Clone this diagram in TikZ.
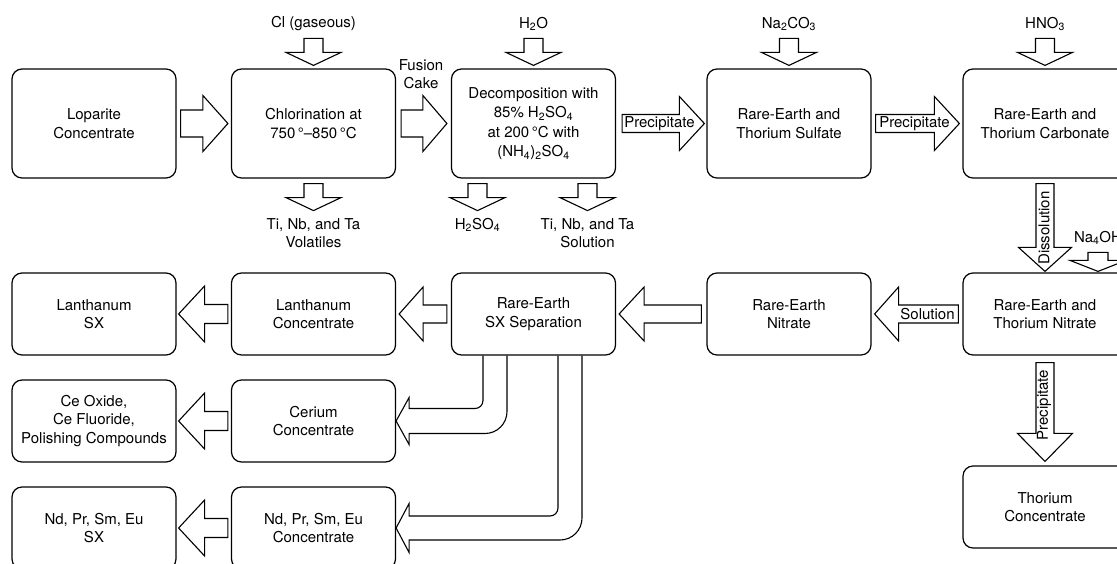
\documentclass[tikz,border=0pt]{standalone}
\usepackage{fontspec}
\setmainfont{TeX Gyre Heros}
\usetikzlibrary{calc}

\newcommand\boxfont{\fontsize{15}{18.5}\selectfont}
\newcommand\chemsub[1]{\textsubscript{#1}}

% hollow block arrows: from, tip, half shaft, half head, head length
\newcommand\flowright[5]{%
  \draw[flowarrow] let \p1=#1, \p2=#2 in
    (\x1,\y1+#3pt) -- (\x2-#5pt,\y1+#3pt) -- (\x2-#5pt,\y1+#4pt) -- (\x2,\y1)
    -- (\x2-#5pt,\y1-#4pt) -- (\x2-#5pt,\y1-#3pt) -- (\x1,\y1-#3pt) -- cycle;}
\newcommand\flowleft[5]{%
  \draw[flowarrow] let \p1=#1, \p2=#2 in
    (\x1,\y1+#3pt) -- (\x2+#5pt,\y1+#3pt) -- (\x2+#5pt,\y1+#4pt) -- (\x2,\y1)
    -- (\x2+#5pt,\y1-#4pt) -- (\x2+#5pt,\y1-#3pt) -- (\x1,\y1-#3pt) -- cycle;}
\newcommand\flowdown[5]{%
  \draw[flowarrow] let \p1=#1, \p2=#2 in
    (\x1-#3pt,\y1) -- (\x1-#3pt,\y2+#5pt) -- (\x1-#4pt,\y2+#5pt) -- (\x1,\y2)
    -- (\x1+#4pt,\y2+#5pt) -- (\x1+#3pt,\y2+#5pt) -- (\x1+#3pt,\y1) -- cycle;}

\tikzset{
  stage/.style={draw, line width=1.2pt, rounded corners=10pt, minimum width=164pt,
    minimum height=82pt, inner sep=0pt, align=center, font=\boxfont},
  tallstage/.style={stage, minimum height=109pt},
  flowarrow/.style={draw, line width=1.1pt, fill=white},
  tag/.style={align=center, inner sep=0pt, font=\boxfont},
}

\begin{document}
\begin{tikzpicture}[x=1pt,y=-1pt]
\useasboundingbox (0,0) rectangle (1117,563);

% top row
\node[tallstage] (lop) at (94,123.5) {Loparite\\Concentrate};
\node[tallstage] (chl) at (313.5,123.5) {Chlorination at\\750\,°–850\,°C};
\node[tallstage, font=\fontsize{15}{19.5}\selectfont] (dec) at (533.5,123.5)
  {Decomposition with\\85\% H\chemsub{2}SO\chemsub{4}\\at 200\,°C with\\(NH\chemsub{4})\chemsub{2}SO\chemsub{4}};
\node[tallstage] (sul) at (789,123.5) {Rare-Earth and\\Thorium Sulfate};
\node[tallstage] (car) at (1045,123.5) {Rare-Earth and\\Thorium Carbonate};

% second row
\node[stage] (las) at (94,314) {Lanthanum\\SX};
\node[stage] (lac) at (313.5,314) {Lanthanum\\Concentrate};
\node[stage] (sx) at (533.5,314) {Rare-Earth\\SX Separation};
\node[stage] (ren) at (789,314) {Rare-Earth\\Nitrate};
\node[stage] (rtn) at (1045,314) {Rare-Earth and\\Thorium Nitrate};

% lower rows
\node[stage] (ceo) at (94,421) {Ce Oxide,\\Ce Fluoride,\\Polishing Compounds};
\node[stage] (cec) at (313.5,421) {Cerium\\Concentrate};
\node[stage] (nds) at (94,528) {Nd, Pr, Sm, Eu\\SX};
\node[stage] (ndc) at (313.5,528) {Nd, Pr, Sm, Eu\\Concentrate};
\node[stage] (thc) at (1045,507) {Thorium\\Concentrate};

% feeds and side streams
\flowdown{([yshift=30pt]chl.north)}{([yshift=3pt]chl.north)}{9.5}{27.5}{13}
\flowdown{([yshift=30pt]dec.north)}{([yshift=3pt]dec.north)}{9.5}{27.5}{13}
\flowdown{([yshift=30pt]sul.north)}{([yshift=3pt]sul.north)}{9.5}{27.5}{13}
\flowdown{([yshift=30pt]car.north)}{([yshift=3pt]car.north)}{9.5}{27.5}{13}
\flowdown{([yshift=-5pt]chl.south)}{([yshift=-32pt]chl.south)}{9.5}{27.5}{13}
\flowdown{([xshift=-56pt,yshift=-5pt]dec.south)}{([xshift=-56pt,yshift=-32pt]dec.south)}{9.5}{27.5}{13}
\flowdown{([xshift=54pt,yshift=-5pt]dec.south)}{([xshift=54pt,yshift=-32pt]dec.south)}{9.5}{27.5}{13}
\flowdown{([xshift=53pt,yshift=20pt]rtn.north)}{([xshift=53pt,yshift=1pt]rtn.north)}{10}{28}{11}

% main flow
\flowright{([xshift=4pt]lop.east)}{([xshift=-3pt]chl.west)}{13.5}{28}{25}
\flowright{([xshift=5pt]chl.east)}{([xshift=-4pt]dec.west)}{13.5}{28}{24}
\flowright{([xshift=6pt]dec.east)}{([xshift=-2pt]sul.west)}{9}{27}{25}
\flowright{([xshift=4pt]sul.east)}{([xshift=-3pt]car.west)}{9}{27}{25}
\flowdown{([yshift=-5pt]car.south)}{([yshift=1pt]rtn.north)}{9}{26.5}{24}
\flowdown{([yshift=-7pt]rtn.south)}{([yshift=4pt]thc.north)}{9}{27.5}{28}
\flowleft{([xshift=-4pt]rtn.west)}{([xshift=3pt]ren.east)}{9}{27}{24}
\flowleft{([xshift=-5pt]ren.west)}{([xshift=3pt]sx.east)}{9}{27}{25}
\flowleft{([xshift=-4pt]sx.west)}{([xshift=3pt]lac.east)}{9}{27}{24}
\foreach \a/\b in {lac/las,cec/ceo,ndc/nds}
  \flowleft{([xshift=-3pt]\a.west)}{([xshift=2pt]\b.east)}{9.5}{28}{26};

% split streams out of the separation
\draw[flowarrow, fill=none] ($(sx.south)+(-50.5,0)$) [rounded corners=8pt]
  -- ($(sx.south |- cec.east)+(-50.5,-12.5)$) [sharp corners]
  -- ($(cec.east)+(13,-12.5)$) -- ($(cec.east)+(13,-23.5)$) -- (cec.east)
  -- ($(cec.east)+(13,23.5)$) -- ($(cec.east)+(13,12.5)$) [rounded corners=22pt]
  -- ($(sx.south |- cec.east)+(-26.5,12.5)$) -- ($(sx.south)+(-26.5,0)$);
\draw[flowarrow, fill=none] ($(sx.south)+(24.5,0)$) [rounded corners=8pt]
  -- ($(sx.south |- ndc.east)+(24.5,-12)$) [sharp corners]
  -- ($(ndc.east)+(13,-12)$) -- ($(ndc.east)+(13,-24.5)$) -- (ndc.east)
  -- ($(ndc.east)+(13,24.5)$) -- ($(ndc.east)+(13,12)$) [rounded corners=22pt]
  -- ($(sx.south |- ndc.east)+(48.5,12)$) -- ($(sx.south)+(48.5,0)$);

% labels
\node[tag] (clgas) at (313.5,24) {Cl (gaseous)};
\node[tag] (water) at (533.5,24) {H\chemsub{2}O};
\node[tag] (soda) at (789,24) {Na\chemsub{2}CO\chemsub{3}};
\node[tag] (nitric) at (1045,24) {HNO\chemsub{3}};
\node[tag] (fusion) at (421,74) {Fusion\\Cake};
\node[tag] (volat) at (313.5,233) {Ti, Nb, and Ta\\Volatiles};
\node[tag] (acid) at (477.5,225) {H\chemsub{2}SO\chemsub{4}};
\node[tag] (tisol) at (587.5,233) {Ti, Nb, and Ta\\Solution};
\node[tag] (ammon) at (1098,238) {Na\chemsub{4}OH};
\node[tag] (prec1) at (659.5,124) {Precipitate};
\node[tag] (prec2) at (914.5,124) {Precipitate};
\node[tag] (sol) at (927.5,314) {Solution};
\node[tag, rotate=90] (diss) at (1044,228) {Dissolution};
\node[tag, rotate=90] (prec3) at (1044,405) {Precipitate};
\end{tikzpicture}
\end{document}
